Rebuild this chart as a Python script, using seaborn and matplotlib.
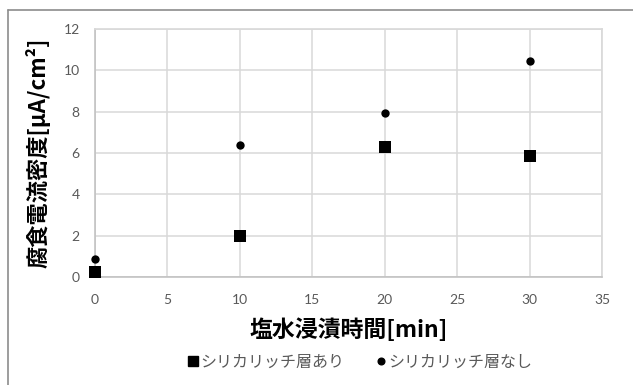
import matplotlib
matplotlib.use("Agg")
import matplotlib.pyplot as plt
from matplotlib.lines import Line2D
import seaborn as sns
import pandas as pd

# Immersion time [min] and corrosion current density [uA/cm2]
times = [0, 10, 20, 30]
with_layer = [0.22, 1.98, 6.30, 5.85]
without_layer = [0.87, 6.39, 7.93, 10.45]
series_names = ["シリカリッチ層あり", "シリカリッチ層なし"]
x_ticks = [0, 5, 10, 15, 20, 25, 30, 35]
y_ticks = [0, 2, 4, 6, 8, 10, 12]

df = pd.DataFrame({
    "time": times * 2,
    "density": with_layer + without_layer,
    "series": [series_names[0]] * len(times) + [series_names[1]] * len(times),
})

sns.set_theme(style="white")
jp = ["Noto Sans CJK JP", "DejaVu Sans"]
plt.rcParams["font.family"] = jp

fig = plt.figure(figsize=(6.33, 3.85), dpi=100)
W, H = 633, 385
ax = fig.add_axes([95 / W, 1 - 277 / H, (602 - 95) / W, (277 - 29) / H])

sns.scatterplot(data=df[df["series"] == series_names[0]], x="time", y="density",
                marker="s", s=70, color="black", edgecolor="black", linewidth=0,
                ax=ax, zorder=3, legend=False, clip_on=False)
sns.scatterplot(data=df[df["series"] == series_names[1]], x="time", y="density",
                marker="o", s=36, color="black", edgecolor="black", linewidth=0,
                ax=ax, zorder=3, legend=False, clip_on=False)

ax.set_xlim(0, 35)
ax.set_ylim(0, 12)
ax.set_xticks(x_ticks)
ax.set_yticks(y_ticks)
ax.grid(True, color="#d9d9d9", linewidth=1.1)
ax.set_axisbelow(True)
for side in ["top", "right"]:
    ax.spines[side].set_visible(True)
    ax.spines[side].set_color("#d9d9d9")
for side in ["left", "bottom"]:
    ax.spines[side].set_color("#bfbfbf")
    ax.spines[side].set_linewidth(1.1)
ax.tick_params(axis="both", length=0, labelsize=10, labelcolor="#595959")
ax.tick_params(axis="x", pad=12)
ax.tick_params(axis="y", pad=11)
for lbl in ax.get_xticklabels() + ax.get_yticklabels():
    lbl.set_family(["Lato", "DejaVu Sans"])

ax.set_xlabel("塩水浸漬時間[min]", fontsize=16.5, fontweight="bold", color="black",
              family=jp, va="center")
ax.set_ylabel("腐食電流密度[μA/cm²]", fontsize=16, fontweight="bold", color="black",
              family=jp, va="center")
ax.yaxis.set_label_coords(-(95 - 38) / (602 - 95), 0.5)
ax.xaxis.set_label_coords(0.5, -(330 - 277) / (277 - 29))

handles = [
    Line2D([], [], marker="s", linestyle="none", color="black", markersize=7),
    Line2D([], [], marker="o", linestyle="none", color="black", markersize=4.8),
]
leg = fig.legend(handles, series_names, loc="center", bbox_to_anchor=(360 / W, 1 - 362 / H),
                 ncol=2, frameon=False, handletextpad=0.15, columnspacing=2.0,
                 handlelength=0.6, prop={"family": jp, "size": 11.5})
for t in leg.get_texts():
    t.set_color("#595959")

# outer chart frame (left and top edges)
fig.add_artist(Line2D([8 / W, 8 / W], [0, 1 - 10 / H], transform=fig.transFigure,
                      color="#8c8c8c", linewidth=1.2))
fig.add_artist(Line2D([8 / W, 1], [1 - 10 / H, 1 - 10 / H], transform=fig.transFigure,
                      color="#8c8c8c", linewidth=1.2))

fig.savefig("out.png", dpi=100, facecolor="white")
